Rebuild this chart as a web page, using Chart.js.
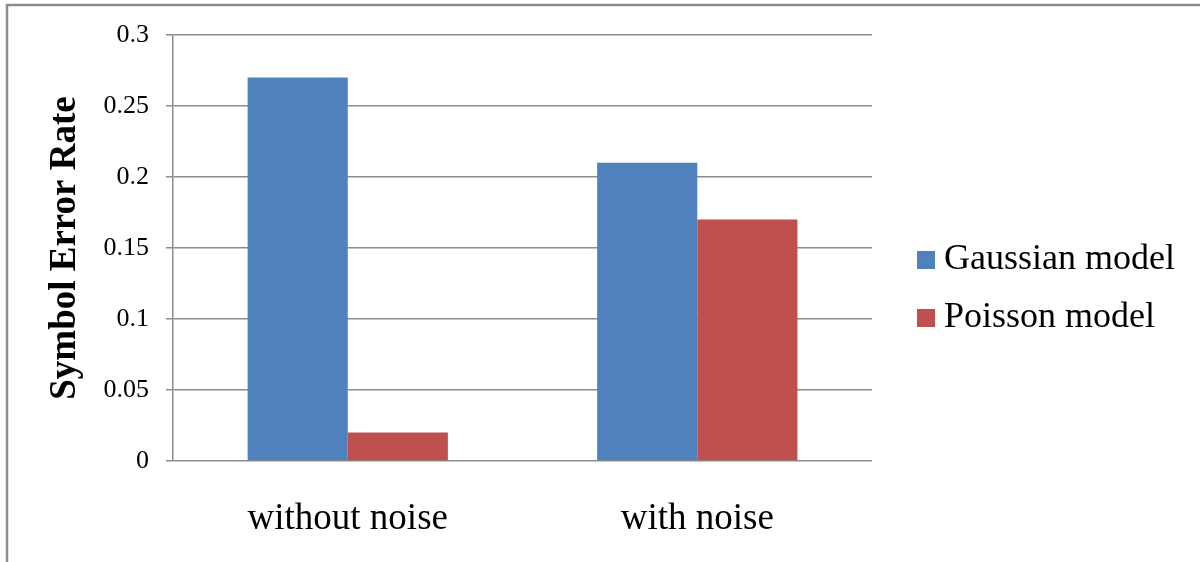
<!DOCTYPE html>
<html>
<head>
<meta charset="utf-8">
<script src="https://cdn.jsdelivr.net/npm/chart.js@4/dist/chart.umd.min.js"></script>
<style>
  html, body { margin: 0; padding: 0; background: #fff; }
  canvas { display: block; }
</style>
</head>
<body>
<canvas id="chart" width="1203" height="562"></canvas>
<script>
// Data
const categories   = ['without noise', 'with noise'];
const gaussianVals = [0.27, 0.21];
const poissonVals  = [0.02, 0.17];
const seriesNames  = ['Gaussian model', 'Poisson model'];
const seriesColors = ['#4f81bd', '#c0504d'];

const SERIF = '"Liberation Serif", "Times New Roman", serif';
const GRID  = '#8c8c8c';

// square legend swatch, drawn as an image point style so it sits close to the text
function swatch(color) {
    const c = document.createElement('canvas');
    c.width = 18;
    c.height = 18;
    const g = c.getContext('2d');
    g.fillStyle = color;
    g.fillRect(0, 0, 18, 18);
    return c;
}
const swatches = seriesColors.map(swatch);

// outer frame (only the top and left edges show in the picture)
const framePlugin = {
    id: 'frame',
    afterDraw(chart) {
        const c = chart.ctx;
        c.save();
        c.strokeStyle = '#8c8c8c';
        c.lineWidth = 2.5;
        c.beginPath();
        c.moveTo(7, 562);
        c.lineTo(7, 5);
        c.lineTo(1200, 5);
        c.stroke();
        c.restore();
    }
};

// push the legend a bit further away from the plot
const legendGap = {
    id: 'legendGap',
    afterLayout(chart) {
        const lg = chart.legend;
        if (!lg) return;
        lg.left += 31;
        lg.right += 31;
    }
};

new Chart(document.getElementById('chart'), {
    type: 'bar',
    data: {
        labels: categories,
        datasets: [
            { label: seriesNames[0], data: gaussianVals, backgroundColor: seriesColors[0] },
            { label: seriesNames[1], data: poissonVals,  backgroundColor: seriesColors[1] }
        ]
    },
    options: {
        responsive: false,
        devicePixelRatio: 1,
        animation: false,
        categoryPercentage: 0.573,
        barPercentage: 1,
        layout: { padding: { top: 35, left: 0, right: 49, bottom: 20 } },
        plugins: {
            tooltip: { enabled: false },
            legend: {
                position: 'right',
                labels: {
                    font: { family: SERIF, size: 36 },
                    color: '#000',
                    usePointStyle: true,
                    boxWidth: 1,
                    boxHeight: 18,
                    padding: 22,
                    generateLabels(chart) {
                        const items = Chart.defaults.plugins.legend.labels.generateLabels(chart);
                        items.forEach((it, i) => { it.pointStyle = swatches[i]; });
                        return items;
                    }
                }
            }
        },
        scales: {
            x: {
                grid: { display: false, drawTicks: false },
                border: { display: false },
                ticks: {
                    font: { family: SERIF, size: 37 },
                    color: '#000',
                    padding: 36,
                    maxRotation: 0
                },
                afterFit(s) { s.height = 81; }
            },
            y: {
                min: 0,
                max: 0.3,
                grid: { color: GRID, lineWidth: 1.5, tickLength: 7 },
                border: { display: true, color: GRID, width: 1.5 },
                ticks: {
                    stepSize: 0.05,
                    font: { family: SERIF, size: 26 },
                    color: '#000',
                    padding: 17,
                    callback: v => +v.toFixed(2) + ''
                },
                title: {
                    display: true,
                    text: 'Symbol Error Rate',
                    font: { family: SERIF, size: 37, weight: 'bold' },
                    color: '#000',
                    padding: { top: 43, bottom: 0 }
                },
                afterFit(s) { s.width = 173; }
            }
        }
    },
    plugins: [framePlugin, legendGap]
});
</script>
</body>
</html>
